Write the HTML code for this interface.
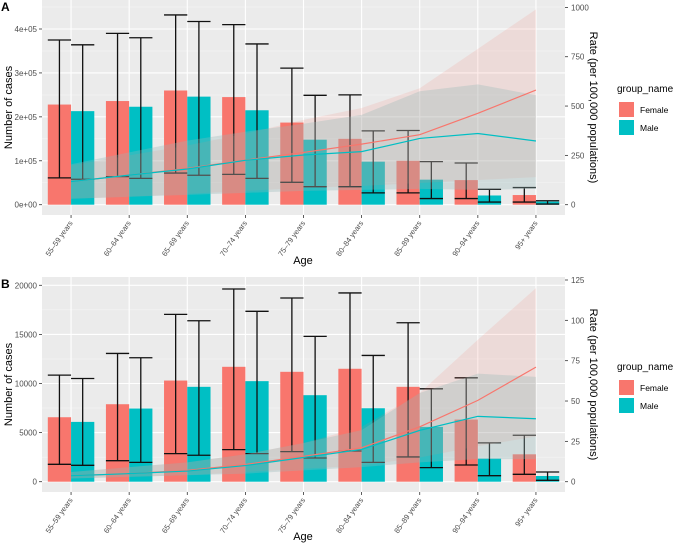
<!DOCTYPE html>
<html><head><meta charset="utf-8">
<style>
body{margin:0;background:#fff;}
svg{display:block;font-family:"Liberation Sans",sans-serif;}
</style></head>
<body>
<svg id="chart" width="677" height="544" viewBox="0 0 677 544"></svg>
<script>
const categories=["55\u201359 years","60\u201364 years","65\u201369 years","70\u201374 years","75\u201379 years","80\u201384 years","85\u201389 years","90\u201394 years","95+ years"];
// Panel A
const aFemale=[228000,236000,260000,245000,187000,150000,100000,56000,22000];
const aMale=[213000,223000,246000,215000,148000,98000,57000,21000,7000];
const aFemaleHi=[375000,390000,432000,410000,311000,250000,169000,95000,39000];
const aFemaleLo=[61000,64000,72000,69000,51000,41000,27000,14000,6000];
const aMaleHi=[364000,380000,417000,366000,249000,168000,98000,35000,9000];
const aMaleLo=[58000,60000,67000,60000,41000,27000,14000,6000,1500];
const aRateF=[117,150,184,226,265,307,355,463,581];
const aRateM=[117,150,181,225,252,269,336,361,323];
const aRibFHi=[200,250,300,360,430,490,590,790,990];
const aRibFLo=[30,40,55,70,85,95,110,125,140];
const aRibMHi=[205,265,325,370,410,455,575,610,555];
const aRibMLo=[30,40,50,60,70,75,80,75,80];
const aLeftTicks=[0,100000,200000,300000,400000];
const aLeftLabels=["0e+00","1e+05","2e+05","3e+05","4e+05"];
const aRightTicks=[0,250,500,750,1000];
// Panel B
const bFemale=[6565,7890,10300,11700,11190,11500,9660,6330,2790];
const bMale=[6090,7450,9660,10240,8810,7480,5580,2350,580];
const bFemaleHi=[10850,13060,17040,19620,18710,19220,16190,10580,4730];
const bFemaleLo=[1770,2140,2860,3270,3060,3130,2520,1700,750];
const bMaleHi=[10510,12620,16390,17350,14800,12860,9460,3950,990];
const bMaleLo=[1670,1970,2690,2860,2410,1970,1430,610,140];
const bRateF=[3.7,5,7,10.7,15.7,21,34,50.4,71];
const bRateM=[3.7,5,6.6,10,15,20,31.8,40.5,39];
const bRibFHi=[6,9,12,17,24,34,55,88,120];
const bRibFLo=[2,3,4,6,8,10,15,22,28];
const bRibMHi=[6,9,12,17,24,32,55,67,65];
const bRibMLo=[2,3,4,5,7,9,12,14,14];
const bLeftTicks=[0,5000,10000,15000,20000];
const bLeftLabels=["0","5000","10000","15000","20000"];
const bRightTicks=[0,25,50,75,100,125];

const NS="http://www.w3.org/2000/svg";
const svg=document.getElementById('chart');
function mk(tag,attrs,parent,text){const e=document.createElementNS(NS,tag);for(const k in attrs)e.setAttribute(k,attrs[k]);if(text!==undefined)e.textContent=text;(parent||svg).appendChild(e);return e;}
const FC="#F8766D",MC="#00BFC4";

function panel(o){
  const g=mk('g',{});
  
  
  const X0=42,X1=565;
  const step=(X1-X0)/categories.length;
  const cx=i=>X0+step*(i+0.5);
  const yL=v=>o.y0-(v/o.lMax)*(o.y0-o.yTop);
  const yR=v=>o.y0-(v/o.rMax)*(o.y0-o.yTopR);
  const bg=mk('rect',{x:X0,y:o.pTop,width:X1-X0,height:o.pBot-o.pTop,fill:"#EBEBEB"},g);
  
  // minor grid
  for(let i=0;i<o.lTicks.length;i++){
    const m=o.lTicks[i]+(o.lTicks[1]-o.lTicks[0])/2;
    const ym=yL(m); if(ym>o.pTop) mk('line',{x1:X0,x2:X1,y1:ym,y2:ym,stroke:"#F5F5F5","stroke-width":0.6},g);
  }
  o.lTicks.forEach((t,i)=>{
    const y=yL(t);
    mk('line',{x1:X0,x2:X1,y1:y,y2:y,stroke:"#fff","stroke-width":1.1},g);
    mk('line',{x1:X0-3,x2:X0,y1:y,y2:y,stroke:"#333","stroke-width":0.8},g);
    const tl=mk('text',{x:X0-5,y:y+3,"text-anchor":"end","font-size":8,fill:"#4D4D4D"},g,o.lLabels[i]);
    
  });
  o.rTicks.forEach(t=>{
    const y=yR(t);
    mk('line',{x1:X1,x2:X1+3,y1:y,y2:y,stroke:"#333","stroke-width":0.8},g);
    const tl=mk('text',{x:X1+6,y:y+3,"font-size":8,fill:"#4D4D4D"},g,String(t));
    
  });
  categories.forEach((c,i)=>{
    const x=cx(i);
    mk('line',{x1:x,x2:x,y1:o.pTop,y2:o.pBot,stroke:"#fff","stroke-width":1.1},g);
    mk('line',{x1:x,x2:x,y1:o.pBot,y2:o.pBot+3,stroke:"#333","stroke-width":0.8},g);
    const tl=mk('text',{transform:`translate(${x+2},${o.pBot+8}) rotate(-55)`,"text-anchor":"end","font-size":7.5,fill:"#4D4D4D"},g,c);
    
  });
  const bw=step*0.4;
  // bars
  categories.forEach((c,i)=>{
    const x=cx(i);
    const bf=mk('rect',{x:x-bw,y:yL(o.f[i]),width:bw,height:o.y0-yL(o.f[i]),fill:FC},g);
    
    const bm=mk('rect',{x:x,y:yL(o.m[i]),width:bw,height:o.y0-yL(o.m[i]),fill:MC},g);
    
  });
  // error bars
  categories.forEach((c,i)=>{
    [[cx(i)-bw/2,o.fHi[i],o.fLo[i]],[cx(i)+bw/2,o.mHi[i],o.mLo[i]]].forEach(([x,hi,lo],k)=>{
      const eg=mk('g',{stroke:"#111","stroke-width":1.3},g);
      
      mk('line',{x1:x,x2:x,y1:yL(hi),y2:yL(lo)},eg);
      mk('line',{x1:x-bw/2,x2:x+bw/2,y1:yL(hi),y2:yL(hi)},eg);
      mk('line',{x1:x-bw/2,x2:x+bw/2,y1:yL(lo),y2:yL(lo)},eg);
    });
  });
  // ribbons
  function ribbon(hi,lo,fill,name){
    let d="";
    hi.forEach((v,i)=>{d+=(i?"L":"M")+cx(i)+","+yR(v);});
    for(let i=lo.length-1;i>=0;i--)d+="L"+cx(i)+","+yR(lo[i]);
    const p=mk('path',{d:d+"Z",fill:fill},g);
    
  }
  ribbon(o.rfHi,o.rfLo,"rgba(248,118,109,0.14)",'ribbon-female');
  ribbon(o.rmHi,o.rmLo,"rgba(150,185,185,0.32)",'ribbon-male');
  function line(vals,col,name){
    const p=mk('polyline',{points:vals.map((v,i)=>cx(i)+","+yR(v)).join(" "),fill:"none",stroke:col,"stroke-width":1.2},g);
    
  }
  line(o.rf,FC,'rate-line-female');
  line(o.rm,MC,'rate-line-male');
  const mid=(o.pTop+o.pBot)/2;
  const yt=mk('text',{transform:`translate(12,${mid}) rotate(-90)`,"text-anchor":"middle","font-size":11,fill:"#000"},g,"Number of cases");
  
  const rt=mk('text',{transform:`translate(590,${mid}) rotate(90)`,"text-anchor":"middle","font-size":11,fill:"#000"},g,"Rate (per 100,000 populations)");
  
  const xt=mk('text',{x:303,y:o.ageY,"text-anchor":"middle","font-size":11,fill:"#000"},g,"Age");
  
  const pl=mk('text',{x:1,y:o.pTop+11,"font-size":12,"font-weight":"bold"},g,o.label);
  
  // legend
  const lg=mk('g',{},g);
  
  mk('text',{x:617,y:o.legY,"font-size":10},lg,"group_name");
  const lf=mk('rect',{x:619,y:o.legY+10,width:15,height:15,fill:FC},lg);
  
  mk('text',{x:640,y:o.legY+21,"font-size":8.5},lg,"Female");
  const lm=mk('rect',{x:619,y:o.legY+28,width:15,height:15,fill:MC},lg);
  
  mk('text',{x:640,y:o.legY+39,"font-size":8.5},lg,"Male");
}
panel({name:'panel-a',label:'A',pTop:0,pBot:215,y0:204.7,yTop:29,lMax:400000,yTopR:7.4,rMax:1000,
  f:aFemale,m:aMale,fHi:aFemaleHi,fLo:aFemaleLo,mHi:aMaleHi,mLo:aMaleLo,rf:aRateF,rm:aRateM,
  rfHi:aRibFHi,rfLo:aRibFLo,rmHi:aRibMHi,rmLo:aRibMLo,lTicks:aLeftTicks,lLabels:aLeftLabels,rTicks:aRightTicks,ageY:264,legY:92});
panel({name:'panel-b',label:'B',pTop:277,pBot:492,y0:481.7,yTop:285.3,lMax:20000,yTopR:280,rMax:125,
  f:bFemale,m:bMale,fHi:bFemaleHi,fLo:bFemaleLo,mHi:bMaleHi,mLo:bMaleLo,rf:bRateF,rm:bRateM,
  rfHi:bRibFHi,rfLo:bRibFLo,rmHi:bRibMHi,rmLo:bRibMLo,lTicks:bLeftTicks,lLabels:bLeftLabels,rTicks:bRightTicks,ageY:540,legY:370});
</script>
</body></html>
